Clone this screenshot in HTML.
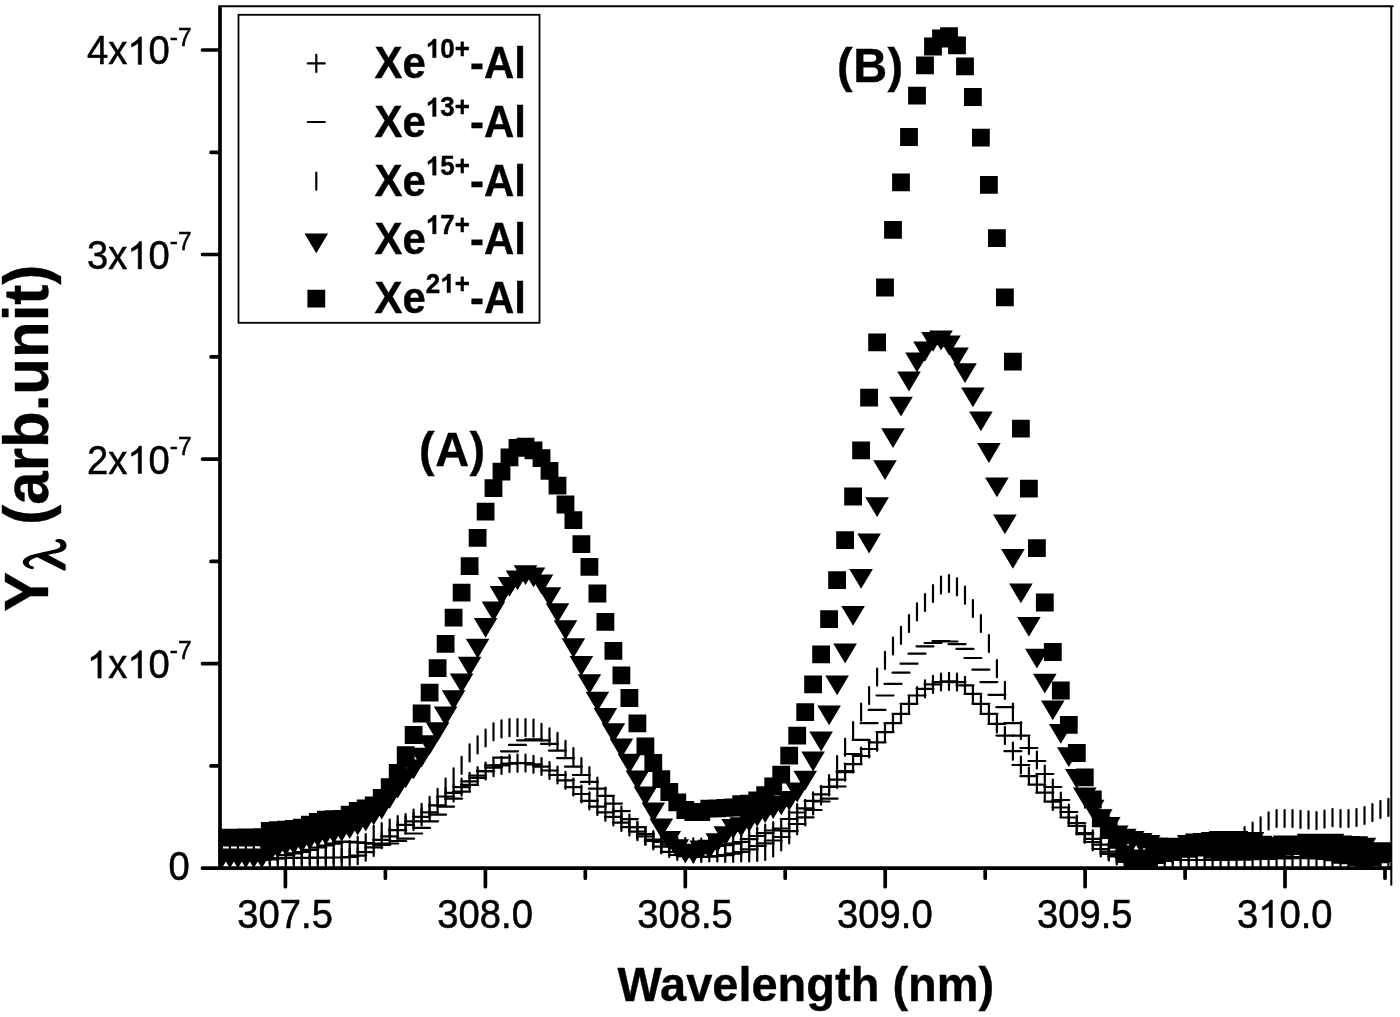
<!DOCTYPE html>
<html><head><meta charset="utf-8"><title>Chart</title><style>
html,body{margin:0;padding:0;background:#fff;}
body{width:1400px;height:1017px;overflow:hidden;font-family:"Liberation Sans",sans-serif;}
svg{display:block;will-change:transform;}
text{font-family:"Liberation Sans",sans-serif;fill:#000;stroke:#000;stroke-width:0.35px;}
.tk{font-size:38.2px;stroke-width:0.5px;}
.ts{font-size:24.5px;}
.lg{font-size:42px;font-weight:bold;}
.sp{font-size:26px;font-weight:bold;}
.an{font-size:47px;font-weight:bold;letter-spacing:0.5px;}
.xt{font-size:47px;font-weight:bold;}
.yt{font-size:60px;font-weight:bold;}
.lam{font-family:"Liberation Serif",serif;font-weight:bold;font-size:62px;}
</style></head><body><svg width="1400" height="1017" viewBox="0 0 1400 1017">
<rect width="1400" height="1017" fill="#fff"/>
<defs><clipPath id="c"><rect x="218.5" y="6.3" width="1173.3" height="863.4"/></clipPath></defs>
<g clip-path="url(#c)">
<path d="M213.4 858.5h17M221.9 850v17M221.4 858.4h17M229.9 849.9v17M229.4 858.4h17M237.9 849.9v17M237.3 858.3h17M245.8 849.8v17M245.3 858.3h17M253.8 849.8v17M253.3 858.2h17M261.8 849.7v17M261.3 858.1h17M269.8 849.6v17M269.3 858.1h17M277.8 849.6v17M277.3 858h17M285.8 849.5v17M285.3 857.9h17M293.8 849.4v17M293.3 857.9h17M301.8 849.4v17M301.3 857.8h17M309.8 849.3v17M309.3 857.7h17M317.8 849.2v17M317.2 857.6h17M325.8 849.1v17M325.2 857.5h17M333.7 849v17M333.2 857.5h17M341.7 849v17M341.2 857h17M349.7 848.5v17M349.2 855.7h17M357.7 847.2v17M357.2 852.2h17M365.7 843.7v17M365.2 847.4h17M373.7 838.9v17M373.2 839.8h17M381.7 831.3v17M381.2 836.4h17M389.7 827.9v17M389.2 830.2h17M397.7 821.7v17M397.1 824.9h17M405.6 816.4v17M405.1 821.4h17M413.6 812.9v17M413.1 816.9h17M421.6 808.4v17M421.1 812.3h17M429.6 803.8v17M429.1 805.4h17M437.6 796.9v17M437.1 796.5h17M445.6 788v17M445.1 792.9h17M453.6 784.4v17M453.1 787.1h17M461.6 778.6v17M461.1 781.4h17M469.6 772.9v17M469.1 775.7h17M477.6 767.2v17M477.1 771.1h17M485.6 762.6v17M485 767.7h17M493.5 759.2v17M493 765.4h17M501.5 756.9v17M501 763.6h17M509.5 755.1v17M509 763.2h17M517.5 754.7v17M517 763.1h17M525.5 754.6v17M525 764.3h17M533.5 755.8v17M533 766.6h17M541.5 758.1v17M541 770.5h17M549.5 762v17M549 775h17M557.5 766.5v17M557 780.3h17M565.5 771.8v17M564.9 787.1h17M573.4 778.6v17M572.9 794h17M581.4 785.5v17M580.9 800.9h17M589.4 792.4v17M588.9 806.6h17M597.4 798.1v17M596.9 812.3h17M605.4 803.8v17M604.9 816.9h17M613.4 808.4v17M612.9 822.6h17M621.4 814.1v17M620.9 827.1h17M629.4 818.6v17M628.9 831.7h17M637.4 823.2v17M636.9 836.3h17M645.4 827.8v17M644.8 839.7h17M653.3 831.2v17M652.8 842h17M661.3 833.5v17M660.8 844.3h17M669.3 835.8v17M668.8 846h17M677.3 837.5v17M676.8 846.5h17M685.3 838v17M684.8 846.9h17M693.3 838.4v17M692.8 847h17M701.3 838.5v17M700.8 846.7h17M709.3 838.2v17M708.8 846h17M717.3 837.5v17M716.8 845.1h17M725.2 836.6v17M724.7 843.7h17M733.2 835.2v17M732.7 842h17M741.2 833.5v17M740.7 839.2h17M749.2 830.7v17M748.7 836h17M757.2 827.5v17M756.7 833.2h17M765.2 824.7v17M764.7 830.5h17M773.2 822v17M772.7 828.5h17M781.2 820v17M780.7 819h17M789.2 810.5v17M788.7 812.5h17M797.2 804v17M796.7 808.3h17M805.2 799.8v17M804.6 800.9h17M813.1 792.4v17M812.6 794.3h17M821.1 785.8v17M820.6 786.9h17M829.1 778.4v17M828.6 779.6h17M837.1 771.1v17M836.6 772.2h17M845.1 763.7v17M844.6 764.1h17M853.1 755.6v17M852.6 756h17M861.1 747.5v17M860.6 749h17M869.1 740.5v17M868.6 742.3h17M877.1 733.8v17M876.5 732.2h17M885 723.7v17M884.5 723.2h17M893 714.7v17M892.5 713.9h17M901 705.4v17M900.5 703.8h17M909 695.3v17M908.5 695.5h17M917 687v17M916.5 688.8h17M925 680.3v17M924.5 684.4h17M933 675.9v17M932.5 682h17M941 673.5v17M940.5 681.4h17M949 672.9v17M948.5 682.1h17M957 673.6v17M956.5 685.4h17M965 676.9v17M964.4 693.8h17M972.9 685.3v17M972.4 703.8h17M980.9 695.3v17M980.4 713.9h17M988.9 705.4v17M988.4 723.9h17M996.9 715.4v17M996.4 735.6h17M1004.9 727.1v17M1004.4 751.2h17M1012.9 742.7v17M1012.4 765h17M1020.9 756.5v17M1020.4 776.2h17M1028.9 767.7v17M1028.4 784.6h17M1036.9 776.1v17M1036.3 792.7h17M1044.8 784.2v17M1044.3 801.6h17M1052.8 793.1v17M1052.3 807.5h17M1060.8 799v17M1060.3 817.5h17M1068.8 809v17M1068.3 825.9h17M1076.8 817.4v17M1076.3 834.2h17M1084.8 825.7v17M1084.3 838.9h17M1092.8 830.4v17M1092.3 844.7h17M1100.8 836.2v17M1100.3 851.6h17M1108.8 843.1v17M1108.3 856h17M1116.8 847.5v17M1116.2 858h17M1124.8 849.5v17M1124.2 859h17M1132.7 850.5v17M1132.2 859.7h17M1140.7 851.2v17M1140.2 860h17M1148.7 851.5v17M1148.2 860h17M1156.7 851.5v17M1156.2 860h17M1164.7 851.5v17M1164.2 860h17M1172.7 851.5v17M1172.2 860h17M1180.7 851.5v17M1180.2 860h17M1188.7 851.5v17M1188.2 860h17M1196.7 851.5v17M1196.2 860h17M1204.7 851.5v17M1204.1 859.9h17M1212.6 851.4v17M1212.1 859.8h17M1220.6 851.3v17M1220.1 859.7h17M1228.6 851.2v17M1228.1 859.5h17M1236.6 851v17M1236.1 859.3h17M1244.6 850.8v17M1244.1 859.2h17M1252.6 850.7v17M1252.1 859h17M1260.6 850.5v17M1260.1 858.8h17M1268.6 850.3v17M1268.1 858.5h17M1276.6 850v17M1276.1 858.3h17M1284.6 849.8v17M1284 858.1h17M1292.5 849.6v17M1292 858h17M1300.5 849.5v17M1300 858.1h17M1308.5 849.6v17M1308 858.4h17M1316.5 849.9v17M1316 858.8h17M1324.5 850.3v17M1324 859.3h17M1332.5 850.8v17M1332 859.7h17M1340.5 851.2v17M1340 860h17M1348.5 851.5v17M1348 860.2h17M1356.5 851.7v17M1356 860.4h17M1364.5 851.9v17M1363.9 860.6h17M1372.4 852.1v17M1371.9 860.8h17M1380.4 852.3v17M1379.9 860.9h17M1388.4 852.4v17" fill="none" stroke="#000" stroke-width="2.2" stroke-linecap="round"/>
<path d="M213.4 860h17M221.4 860h17M229.4 860h17M237.3 860h17M245.3 860h17M253.3 860h17M261.3 859.5h17M269.3 858.4h17M277.3 855.2h17M285.3 853.3h17M293.3 852h17M301.3 849.9h17M309.3 847.5h17M317.2 845.5h17M325.2 843.6h17M333.2 841.7h17M341.2 841.9h17M349.2 842.4h17M357.2 843h17M365.2 843.7h17M373.2 845h17M381.2 843.5h17M389.2 841h17M397.1 838.6h17M405.1 833.5h17M413.1 827.8h17M421.1 821.4h17M429.1 814.6h17M437.1 806.6h17M445.1 798.6h17M453.1 791.7h17M461.1 784.9h17M469.1 778h17M477.1 771.1h17M485 765.4h17M493 757.7h17M501 751.3h17M509 744.9h17M517 740.3h17M525 739.4h17M533 740.3h17M541 743.9h17M549 750.6h17M557 758.1h17M564.9 766.6h17M572.9 775h17M580.9 781.9h17M588.9 788.7h17M596.9 795.8h17M604.9 803.6h17M612.9 811.1h17M620.9 819.1h17M628.9 827.1h17M636.9 834h17M644.8 840.9h17M652.8 846.6h17M660.8 851.8h17M668.8 855h17M676.8 856.1h17M684.8 856.8h17M692.8 857h17M700.8 856.7h17M708.8 856h17M716.8 855.1h17M724.7 853.7h17M732.7 852h17M740.7 849.3h17M748.7 846h17M756.7 843.3h17M764.7 840.5h17M772.7 837h17M780.7 831.1h17M788.7 824h17M796.7 817.3h17M804.6 810h17M812.6 801.5h17M820.6 798.7h17M828.6 786.5h17M836.6 771h17M844.6 754h17M852.6 739.9h17M860.6 723.2h17M868.6 709.8h17M876.5 695.5h17M884.5 683.8h17M892.5 672.7h17M900.5 663.7h17M908.5 653.7h17M916.5 646.3h17M924.5 643h17M932.5 641h17M940.5 641.5h17M948.5 644.1h17M956.5 648.9h17M964.4 658h17M972.4 669.7h17M980.4 682.1h17M988.4 694.8h17M996.4 707.2h17M1004.4 723.2h17M1012.4 735.6h17M1020.4 748h17M1028.4 761h17M1036.3 774h17M1044.3 787h17M1052.3 800h17M1060.3 812h17M1068.3 823h17M1076.3 833h17M1084.3 842h17M1092.3 849h17M1100.3 853.8h17M1108.3 856.3h17M1116.2 858h17M1124.2 859h17M1132.2 859.5h17M1140.2 859.8h17M1148.2 860h17M1156.2 860h17M1164.2 860h17M1172.2 860h17M1180.2 860h17M1188.2 860h17M1196.2 860h17M1204.1 859.8h17M1212.1 859.6h17M1220.1 859.3h17M1228.1 858.9h17M1236.1 858.6h17M1244.1 858.3h17M1252.1 858h17M1260.1 857.8h17M1268.1 857.5h17M1276.1 857.2h17M1284 857.1h17M1292 857h17M1300 857.1h17M1308 857.4h17M1316 857.8h17M1324 858.3h17M1332 858.7h17M1340 859h17M1348 859.2h17M1356 859.4h17M1363.9 859.6h17M1371.9 859.8h17M1379.9 859.9h17" fill="none" stroke="#000" stroke-width="2.2" stroke-linecap="round"/>
<path d="M221.9 846.5v17M229.9 846.6v17M237.9 846.7v17M245.8 846.8v17M253.8 846.9v17M261.8 847v17M269.8 847.1v17M277.8 847.2v17M285.8 847.4v17M293.8 847.5v17M301.8 847.5v17M309.8 847.4v17M317.8 847.2v17M325.8 846.9v17M333.7 846.5v17M341.7 845.1v17M349.7 841v17M357.7 836.8v17M365.7 834.1v17M373.7 825.8v17M381.7 823.1v17M389.7 819.6v17M397.7 816.2v17M405.6 814.1v17M413.6 809.5v17M421.6 803.8v17M429.6 796.9v17M437.6 788.9v17M445.6 778.6v17M453.6 768.4v17M461.6 756.9v17M469.6 744.4v17M477.6 736.4v17M485.6 729.5v17M493.5 723.3v17M501.5 720.4v17M509.5 719.2v17M517.5 719.2v17M525.5 719.2v17M533.5 719.7v17M541.5 723.8v17M549.5 728.4v17M557.5 732.9v17M565.5 740.9v17M573.4 748.2v17M581.4 758.1v17M589.4 767.2v17M597.4 777.5v17M605.4 787.5v17M613.4 797.5v17M621.4 806.5v17M629.4 814.5v17M637.4 821.5v17M645.4 827.5v17M653.3 832.5v17M661.3 836.5v17M669.3 840v17M677.3 843v17M685.3 844v17M693.3 844.7v17M701.3 845v17M709.3 844.5v17M717.3 844.5v17M725.2 845v17M733.2 845v17M741.2 844.5v17M749.2 844.5v17M757.2 844v17M765.2 843v17M773.2 839.5v17M781.2 833.5v17M789.2 826.5v17M797.2 817.5v17M805.2 808.5v17M813.1 797.5v17M821.1 787.6v17M829.1 775v17M837.1 756.2v17M845.1 738.8v17M853.1 722.1v17M861.1 703.7v17M869.1 687v17M877.1 668.6v17M885 651.9v17M893 637.5v17M901 626.8v17M909 615.1v17M917 603.4v17M925 594v17M933 585v17M941 576.6v17M949 575v17M957 578.3v17M965 586.7v17M972.9 600v17M980.9 615.1v17M988.9 635.1v17M996.9 660.2v17M1004.9 681.9v17M1012.9 703.7v17M1020.9 722.1v17M1028.9 737.1v17M1036.9 751.5v17M1044.8 765.5v17M1052.8 779.5v17M1060.8 792.5v17M1068.8 804.5v17M1076.8 815.5v17M1084.8 825.5v17M1092.8 833.5v17M1100.8 839.5v17M1108.8 843.5v17M1116.8 845.6v17M1124.8 846.9v17M1132.7 847.5v17M1140.7 847.4v17M1148.7 847.1v17M1156.7 846.7v17M1164.7 846.3v17M1172.7 845.8v17M1180.7 845.2v17M1188.7 844.6v17M1196.7 843.8v17M1204.7 843v17M1212.6 842v17M1220.6 840.5v17M1228.6 838.2v17M1236.6 833.5v17M1244.6 827.1v17M1252.6 822.5v17M1260.6 817.4v17M1268.6 812.4v17M1276.6 810v17M1284.6 810v17M1292.5 810v17M1300.5 810.9v17M1308.5 811.4v17M1316.5 812.1v17M1324.5 810.6v17M1332.5 809.2v17M1340.5 810v17M1348.5 810v17M1356.5 809v17M1364.5 807v17M1372.4 804.1v17M1380.4 801v17M1388.4 798.9v17" fill="none" stroke="#000" stroke-width="2.2" stroke-linecap="round"/>
<path d="M210.1 848.4h23.6l-11.8 19.8zM218.1 848.4h23.6l-11.8 19.8zM226.1 848.4h23.6l-11.8 19.8zM234 848.4h23.6l-11.8 19.8zM242 848.4h23.6l-11.8 19.8zM250 848.4h23.6l-11.8 19.8zM258 843.4h23.6l-11.8 19.8zM266 838.6h23.6l-11.8 19.8zM274 836.3h23.6l-11.8 19.8zM282 834.7h23.6l-11.8 19.8zM290 832.9h23.6l-11.8 19.8zM298 830.1h23.6l-11.8 19.8zM306 827.4h23.6l-11.8 19.8zM313.9 825.5h23.6l-11.8 19.8zM321.9 823.9h23.6l-11.8 19.8zM329.9 821.9h23.6l-11.8 19.8zM337.9 819.2h23.6l-11.8 19.8zM345.9 815.8h23.6l-11.8 19.8zM353.9 811.6h23.6l-11.8 19.8zM361.9 805.4h23.6l-11.8 19.8zM369.9 799.8h23.6l-11.8 19.8zM377.9 789h23.6l-11.8 19.8zM385.9 778.7h23.6l-11.8 19.8zM393.8 768.4h23.6l-11.8 19.8zM401.8 759.4h23.6l-11.8 19.8zM409.8 747.7h23.6l-11.8 19.8zM417.8 735.3h23.6l-11.8 19.8zM425.8 722.2h23.6l-11.8 19.8zM433.8 706.4h23.6l-11.8 19.8zM441.8 690.3h23.6l-11.8 19.8zM449.8 673.4h23.6l-11.8 19.8zM457.8 656.8h23.6l-11.8 19.8zM465.8 638.7h23.6l-11.8 19.8zM473.8 617.9h23.6l-11.8 19.8zM481.7 601.4h23.6l-11.8 19.8zM489.7 586.1h23.6l-11.8 19.8zM497.7 577h23.6l-11.8 19.8zM505.7 570.4h23.6l-11.8 19.8zM513.7 565.2h23.6l-11.8 19.8zM521.7 567.5h23.6l-11.8 19.8zM529.7 574.6h23.6l-11.8 19.8zM537.7 587.2h23.6l-11.8 19.8zM545.7 603.3h23.6l-11.8 19.8zM553.7 620.3h23.6l-11.8 19.8zM561.6 638.3h23.6l-11.8 19.8zM569.6 656.1h23.6l-11.8 19.8zM577.6 674.2h23.6l-11.8 19.8zM585.6 691.8h23.6l-11.8 19.8zM593.6 707.9h23.6l-11.8 19.8zM601.6 723.2h23.6l-11.8 19.8zM609.6 738.5h23.6l-11.8 19.8zM617.6 753.8h23.6l-11.8 19.8zM625.6 770.4h23.6l-11.8 19.8zM633.6 786.4h23.6l-11.8 19.8zM641.5 802.4h23.6l-11.8 19.8zM649.5 818.4h23.6l-11.8 19.8zM657.5 830.9h23.6l-11.8 19.8zM665.5 839.2h23.6l-11.8 19.8zM673.5 843.7h23.6l-11.8 19.8zM681.5 844.3h23.6l-11.8 19.8zM689.5 840.5h23.6l-11.8 19.8zM697.5 839.8h23.6l-11.8 19.8zM705.5 833.3h23.6l-11.8 19.8zM713.5 826.2h23.6l-11.8 19.8zM721.4 819.1h23.6l-11.8 19.8zM729.4 817.2h23.6l-11.8 19.8zM737.4 812.2h23.6l-11.8 19.8zM745.4 807h23.6l-11.8 19.8zM753.4 803.2h23.6l-11.8 19.8zM761.4 799.3h23.6l-11.8 19.8zM769.4 795.5h23.6l-11.8 19.8zM777.4 791h23.6l-11.8 19.8zM785.4 782.6h23.6l-11.8 19.8zM793.4 770.7h23.6l-11.8 19.8zM801.3 751.6h23.6l-11.8 19.8zM809.3 731.6h23.6l-11.8 19.8zM817.3 705.5h23.6l-11.8 19.8zM825.3 675.4h23.6l-11.8 19.8zM833.3 643.6h23.6l-11.8 19.8zM841.3 605.9h23.6l-11.8 19.8zM849.3 568.9h23.6l-11.8 19.8zM857.3 533.6h23.6l-11.8 19.8zM865.3 497.2h23.6l-11.8 19.8zM873.2 460.3h23.6l-11.8 19.8zM881.2 428.3h23.6l-11.8 19.8zM889.2 396.7h23.6l-11.8 19.8zM897.2 371.6h23.6l-11.8 19.8zM905.2 352.6h23.6l-11.8 19.8zM913.2 341.6h23.6l-11.8 19.8zM921.2 332h23.6l-11.8 19.8zM929.2 330.6h23.6l-11.8 19.8zM937.2 335.4h23.6l-11.8 19.8zM945.2 347.5h23.6l-11.8 19.8zM953.2 363.3h23.6l-11.8 19.8zM961.1 387.4h23.6l-11.8 19.8zM969.1 411.5h23.6l-11.8 19.8zM977.1 443.1h23.6l-11.8 19.8zM985.1 477.5h23.6l-11.8 19.8zM993.1 514.4h23.6l-11.8 19.8zM1001.1 549h23.6l-11.8 19.8zM1009.1 583.5h23.6l-11.8 19.8zM1017.1 616.9h23.6l-11.8 19.8zM1025.1 648.7h23.6l-11.8 19.8zM1033 673.7h23.6l-11.8 19.8zM1041 700.5h23.6l-11.8 19.8zM1049 723.9h23.6l-11.8 19.8zM1057 747.3h23.6l-11.8 19.8zM1065 769h23.6l-11.8 19.8zM1073 787.4h23.6l-11.8 19.8zM1081 799.7h23.6l-11.8 19.8zM1089 809.3h23.6l-11.8 19.8zM1097 816.9h23.6l-11.8 19.8zM1105 825.4h23.6l-11.8 19.8zM1113 828.7h23.6l-11.8 19.8zM1120.9 831.1h23.6l-11.8 19.8zM1128.9 833.1h23.6l-11.8 19.8zM1136.9 835.1h23.6l-11.8 19.8zM1144.9 837.4h23.6l-11.8 19.8zM1152.9 837.7h23.6l-11.8 19.8zM1160.9 837.7h23.6l-11.8 19.8zM1168.9 837.7h23.6l-11.8 19.8zM1176.9 834.9h23.6l-11.8 19.8zM1184.9 833.5h23.6l-11.8 19.8zM1192.9 832.9h23.6l-11.8 19.8zM1200.8 831.9h23.6l-11.8 19.8zM1208.8 831.1h23.6l-11.8 19.8zM1216.8 830.9h23.6l-11.8 19.8zM1224.8 830.9h23.6l-11.8 19.8zM1232.8 832h23.6l-11.8 19.8zM1240.8 832h23.6l-11.8 19.8zM1248.8 835.8h23.6l-11.8 19.8zM1256.8 838.1h23.6l-11.8 19.8zM1264.8 837.1h23.6l-11.8 19.8zM1272.8 835.4h23.6l-11.8 19.8zM1280.7 835.4h23.6l-11.8 19.8zM1288.7 835.4h23.6l-11.8 19.8zM1296.7 833.7h23.6l-11.8 19.8zM1304.7 833.7h23.6l-11.8 19.8zM1312.7 833.7h23.6l-11.8 19.8zM1320.7 833.7h23.6l-11.8 19.8zM1328.7 835.4h23.6l-11.8 19.8zM1336.7 836h23.6l-11.8 19.8zM1344.7 836.3h23.6l-11.8 19.8zM1352.7 837.8h23.6l-11.8 19.8zM1360.6 842.3h23.6l-11.8 19.8zM1368.6 842.3h23.6l-11.8 19.8zM1376.6 842.3h23.6l-11.8 19.8z" fill="#000"/>
<path d="M213 828.7h17.8v17.8h-17.8zM221 828.7h17.8v17.8h-17.8zM229 828.7h17.8v17.8h-17.8zM236.9 828.6h17.8v17.8h-17.8zM244.9 828.5h17.8v17.8h-17.8zM252.9 828.3h17.8v17.8h-17.8zM260.9 822.1h17.8v17.8h-17.8zM268.9 821.2h17.8v17.8h-17.8zM276.9 820.7h17.8v17.8h-17.8zM284.9 820.1h17.8v17.8h-17.8zM292.9 818.7h17.8v17.8h-17.8zM300.9 815.8h17.8v17.8h-17.8zM308.9 813.1h17.8v17.8h-17.8zM316.9 810.7h17.8v17.8h-17.8zM324.8 810.3h17.8v17.8h-17.8zM332.8 809.9h17.8v17.8h-17.8zM340.8 805.8h17.8v17.8h-17.8zM348.8 802h17.8v17.8h-17.8zM356.8 799.4h17.8v17.8h-17.8zM364.8 796.6h17.8v17.8h-17.8zM372.8 789.1h17.8v17.8h-17.8zM380.8 778.3h17.8v17.8h-17.8zM388.8 764.1h17.8v17.8h-17.8zM396.8 746.2h17.8v17.8h-17.8zM404.7 726.1h17.8v17.8h-17.8zM412.7 704.6h17.8v17.8h-17.8zM420.7 683.7h17.8v17.8h-17.8zM428.7 659.2h17.8v17.8h-17.8zM436.7 635h17.8v17.8h-17.8zM444.7 608.8h17.8v17.8h-17.8zM452.7 583.7h17.8v17.8h-17.8zM460.7 557.2h17.8v17.8h-17.8zM468.7 528.9h17.8v17.8h-17.8zM476.7 502.8h17.8v17.8h-17.8zM484.6 479.2h17.8v17.8h-17.8zM492.6 462.8h17.8v17.8h-17.8zM500.6 448.4h17.8v17.8h-17.8zM508.6 438.9h17.8v17.8h-17.8zM516.6 437.7h17.8v17.8h-17.8zM524.6 441.4h17.8v17.8h-17.8zM532.6 449.3h17.8v17.8h-17.8zM540.6 461.9h17.8v17.8h-17.8zM548.6 476.7h17.8v17.8h-17.8zM556.6 495.6h17.8v17.8h-17.8zM564.5 511.3h17.8v17.8h-17.8zM572.5 535.2h17.8v17.8h-17.8zM580.5 557.9h17.8v17.8h-17.8zM588.5 584.6h17.8v17.8h-17.8zM596.5 612.9h17.8v17.8h-17.8zM604.5 641.9h17.8v17.8h-17.8zM612.5 666.4h17.8v17.8h-17.8zM620.5 689.1h17.8v17.8h-17.8zM628.5 714.5h17.8v17.8h-17.8zM636.5 737.4h17.8v17.8h-17.8zM644.4 754.1h17.8v17.8h-17.8zM652.4 770.3h17.8v17.8h-17.8zM660.4 783.1h17.8v17.8h-17.8zM668.4 793.4h17.8v17.8h-17.8zM676.4 801.1h17.8v17.8h-17.8zM684.4 803.1h17.8v17.8h-17.8zM692.4 803.1h17.8v17.8h-17.8zM700.4 799.8h17.8v17.8h-17.8zM708.4 799.4h17.8v17.8h-17.8zM716.4 799h17.8v17.8h-17.8zM724.3 798.6h17.8v17.8h-17.8zM732.3 795.3h17.8v17.8h-17.8zM740.3 794.7h17.8v17.8h-17.8zM748.3 791.5h17.8v17.8h-17.8zM756.3 786.3h17.8v17.8h-17.8zM764.3 777.4h17.8v17.8h-17.8zM772.3 765.8h17.8v17.8h-17.8zM780.3 746.7h17.8v17.8h-17.8zM788.3 726.7h17.8v17.8h-17.8zM796.3 703.3h17.8v17.8h-17.8zM804.2 675.5h17.8v17.8h-17.8zM812.2 645.4h17.8v17.8h-17.8zM820.2 610.3h17.8v17.8h-17.8zM828.2 571.2h17.8v17.8h-17.8zM836.2 531.3h17.8v17.8h-17.8zM844.2 487.6h17.8v17.8h-17.8zM852.2 441.5h17.8v17.8h-17.8zM860.2 388.8h17.8v17.8h-17.8zM868.2 333.4h17.8v17.8h-17.8zM876.1 278.6h17.8v17.8h-17.8zM884.1 221h17.8v17.8h-17.8zM892.1 173.5h17.8v17.8h-17.8zM900.1 128.1h17.8v17.8h-17.8zM908.1 86.8h17.8v17.8h-17.8zM916.1 56.5h17.8v17.8h-17.8zM924.1 37.6h17.8v17.8h-17.8zM932.1 29.6h17.8v17.8h-17.8zM940.1 27.2h17.8v17.8h-17.8zM948.1 36.5h17.8v17.8h-17.8zM956.1 57.5h17.8v17.8h-17.8zM964 88.1h17.8v17.8h-17.8zM972 128.7h17.8v17.8h-17.8zM980 175.9h17.8v17.8h-17.8zM988 229.2h17.8v17.8h-17.8zM996 288.4h17.8v17.8h-17.8zM1004 352.7h17.8v17.8h-17.8zM1012 419.8h17.8v17.8h-17.8zM1020 479.7h17.8v17.8h-17.8zM1028 539.2h17.8v17.8h-17.8zM1035.9 593.6h17.8v17.8h-17.8zM1043.9 643.1h17.8v17.8h-17.8zM1051.9 681.6h17.8v17.8h-17.8zM1059.9 716h17.8v17.8h-17.8zM1067.9 744.1h17.8v17.8h-17.8zM1075.9 768.5h17.8v17.8h-17.8zM1083.9 790.6h17.8v17.8h-17.8zM1091.9 809.4h17.8v17.8h-17.8zM1099.9 821.2h17.8v17.8h-17.8zM1107.9 831h17.8v17.8h-17.8zM1115.8 845.3h17.8v17.8h-17.8zM1123.8 849.6h17.8v17.8h-17.8zM1131.8 850.1h17.8v17.8h-17.8zM1139.8 849.6h17.8v17.8h-17.8zM1147.8 846.3h17.8v17.8h-17.8zM1155.8 844.1h17.8v17.8h-17.8zM1163.8 842.8h17.8v17.8h-17.8zM1171.8 839.9h17.8v17.8h-17.8zM1179.8 839.9h17.8v17.8h-17.8zM1187.8 838.8h17.8v17.8h-17.8zM1195.8 838.8h17.8v17.8h-17.8zM1203.7 840.8h17.8v17.8h-17.8zM1211.7 841.4h17.8v17.8h-17.8zM1219.7 841.6h17.8v17.8h-17.8zM1227.7 842.1h17.8v17.8h-17.8zM1235.7 842.7h17.8v17.8h-17.8zM1243.7 842.1h17.8v17.8h-17.8zM1251.7 840.4h17.8v17.8h-17.8zM1259.7 840.4h17.8v17.8h-17.8zM1267.7 839.1h17.8v17.8h-17.8zM1275.7 838h17.8v17.8h-17.8zM1283.6 837.1h17.8v17.8h-17.8zM1291.6 837.2h17.8v17.8h-17.8zM1299.6 838.9h17.8v17.8h-17.8zM1307.6 840.3h17.8v17.8h-17.8zM1315.6 840.3h17.8v17.8h-17.8zM1323.6 843.5h17.8v17.8h-17.8zM1331.6 845.9h17.8v17.8h-17.8zM1339.6 846.5h17.8v17.8h-17.8zM1347.6 848.1h17.8v17.8h-17.8zM1355.5 849.1h17.8v17.8h-17.8zM1363.5 848.5h17.8v17.8h-17.8zM1371.5 845.4h17.8v17.8h-17.8zM1379.5 844.1h17.8v17.8h-17.8z" fill="#000"/>
</g>
<path d="M220 7.8V868.2M202.5 868.2H1390.3M211 765.9H220M202.5 663.7H220M211 561.4H220M202.5 459.1H220M211 356.8H220M202.5 254.5H220M211 152.3H220M202.5 50H220M285.4 868.2V886.7M385.4 868.2V878.2M485.4 868.2V886.7M585.3 868.2V878.2M685.3 868.2V886.7M785.2 868.2V878.2M885.2 868.2V886.7M985.2 868.2V878.2M1085.1 868.2V886.7M1185.1 868.2V878.2M1285 868.2V886.7M1385 868.2V878.2" fill="none" stroke="#000" stroke-width="3.7" stroke-linecap="round"/>
<path d="M219 6.3H1392.8M1391.3 6.3V884.7" fill="none" stroke="#000" stroke-width="2" stroke-linecap="round"/>
<rect x="238.5" y="14.8" width="301" height="308" fill="#fff" stroke="#000" stroke-width="1.8"/>
<path d="M307.8 63.4h17M316.3 54.9v17M307.8 122h17M316.3 172.7v17" fill="none" stroke="#000" stroke-width="2.2" stroke-linecap="round"/>
<path d="M304.5 233.5h23.6l-11.8 19.8zM307.4 289.7h17.8v17.8h-17.8z" fill="#000"/>
<text class="lg" transform="translate(374.5 78) scale(1 1.0405)">Xe<tspan class="sp" dy="-19.51"><tspan visibility="hidden">1</tspan>0+</tspan><tspan dy="19.51">-Al</tspan></text>
<text class="lg" transform="translate(374.5 136.75) scale(1 1.0405)">Xe<tspan class="sp" dy="-19.51"><tspan visibility="hidden">1</tspan>3+</tspan><tspan dy="19.51">-Al</tspan></text>
<text class="lg" transform="translate(374.5 195.5) scale(1 1.0405)">Xe<tspan class="sp" dy="-19.51"><tspan visibility="hidden">1</tspan>5+</tspan><tspan dy="19.51">-Al</tspan></text>
<text class="lg" transform="translate(374.5 254.25) scale(1 1.0405)">Xe<tspan class="sp" dy="-19.51"><tspan visibility="hidden">1</tspan>7+</tspan><tspan dy="19.51">-Al</tspan></text>
<text class="lg" transform="translate(374.5 313) scale(1 1.0405)">Xe<tspan class="sp" dy="-19.51">2<tspan visibility="hidden">1</tspan>+</tspan><tspan dy="19.51">-Al</tspan></text>
<text class="tk" text-anchor="middle" transform="translate(285.1 927.5) scale(1 1.0405)">307.5</text>
<text class="tk" text-anchor="middle" transform="translate(485.1 927.5) scale(1 1.0405)">308.0</text>
<text class="tk" text-anchor="middle" transform="translate(685 927.5) scale(1 1.0405)">308.5</text>
<text class="tk" text-anchor="middle" transform="translate(884.9 927.5) scale(1 1.0405)">309.0</text>
<text class="tk" text-anchor="middle" transform="translate(1084.8 927.5) scale(1 1.0405)">309.5</text>
<text class="tk" text-anchor="middle" transform="translate(1284.8 927.5) scale(1 1.0405)">3<tspan visibility="hidden">1</tspan>0.0</text>
<text class="tk" transform="translate(87 678.1) scale(1 1.0405)"><tspan visibility="hidden">1</tspan>x<tspan visibility="hidden">1</tspan>0<tspan class="ts" dy="-18.16">-7</tspan></text>
<text class="tk" transform="translate(87 473.5) scale(1 1.0405)">2x<tspan visibility="hidden">1</tspan>0<tspan class="ts" dy="-18.16">-7</tspan></text>
<text class="tk" transform="translate(87 268.9) scale(1 1.0405)">3x<tspan visibility="hidden">1</tspan>0<tspan class="ts" dy="-18.16">-7</tspan></text>
<text class="tk" transform="translate(87 64.4) scale(1 1.0405)">4x<tspan visibility="hidden">1</tspan>0<tspan class="ts" dy="-18.16">-7</tspan></text>
<text class="tk" transform="translate(168.6 880.1) scale(1 1.0405)">0</text>
<path transform="translate(425.9 57.7) scale(0.01270 -0.01270)" d="M806 0L525 0L525 1059Q371 915 162 846L162 1101Q272 1137 401 1237.5Q530 1338 578 1472L806 1472Z" fill="#000" stroke="#000" stroke-width="27.6" stroke-linejoin="round"/>
<path transform="translate(425.9 116.5) scale(0.01270 -0.01270)" d="M806 0L525 0L525 1059Q371 915 162 846L162 1101Q272 1137 401 1237.5Q530 1338 578 1472L806 1472Z" fill="#000" stroke="#000" stroke-width="27.6" stroke-linejoin="round"/>
<path transform="translate(425.9 175.2) scale(0.01270 -0.01270)" d="M806 0L525 0L525 1059Q371 915 162 846L162 1101Q272 1137 401 1237.5Q530 1338 578 1472L806 1472Z" fill="#000" stroke="#000" stroke-width="27.6" stroke-linejoin="round"/>
<path transform="translate(425.9 233.9) scale(0.01270 -0.01270)" d="M806 0L525 0L525 1059Q371 915 162 846L162 1101Q272 1137 401 1237.5Q530 1338 578 1472L806 1472Z" fill="#000" stroke="#000" stroke-width="27.6" stroke-linejoin="round"/>
<path transform="translate(440.3 292.7) scale(0.01270 -0.01270)" d="M806 0L525 0L525 1059Q371 915 162 846L162 1101Q272 1137 401 1237.5Q530 1338 578 1472L806 1472Z" fill="#000" stroke="#000" stroke-width="27.6" stroke-linejoin="round"/>
<path transform="translate(1258.2 927.5) scale(0.01865 -0.01865)" d="M763 0L583 0L583 1147Q518 1085 412.5 1023Q307 961 223 930L223 1104Q374 1175 487 1276Q600 1377 647 1472L763 1472Z" fill="#000" stroke="#000" stroke-width="26.8" stroke-linejoin="round"/>
<path transform="translate(127.3 678.1) scale(0.01865 -0.01865)" d="M763 0L583 0L583 1147Q518 1085 412.5 1023Q307 961 223 930L223 1104Q374 1175 487 1276Q600 1377 647 1472L763 1472Z" fill="#000" stroke="#000" stroke-width="26.8" stroke-linejoin="round"/>
<path transform="translate(87 678.1) scale(0.01865 -0.01865)" d="M763 0L583 0L583 1147Q518 1085 412.5 1023Q307 961 223 930L223 1104Q374 1175 487 1276Q600 1377 647 1472L763 1472Z" fill="#000" stroke="#000" stroke-width="26.8" stroke-linejoin="round"/>
<path transform="translate(127.3 473.5) scale(0.01865 -0.01865)" d="M763 0L583 0L583 1147Q518 1085 412.5 1023Q307 961 223 930L223 1104Q374 1175 487 1276Q600 1377 647 1472L763 1472Z" fill="#000" stroke="#000" stroke-width="26.8" stroke-linejoin="round"/>
<path transform="translate(127.3 268.9) scale(0.01865 -0.01865)" d="M763 0L583 0L583 1147Q518 1085 412.5 1023Q307 961 223 930L223 1104Q374 1175 487 1276Q600 1377 647 1472L763 1472Z" fill="#000" stroke="#000" stroke-width="26.8" stroke-linejoin="round"/>
<path transform="translate(127.3 64.4) scale(0.01865 -0.01865)" d="M763 0L583 0L583 1147Q518 1085 412.5 1023Q307 961 223 930L223 1104Q374 1175 487 1276Q600 1377 647 1472L763 1472Z" fill="#000" stroke="#000" stroke-width="26.8" stroke-linejoin="round"/>
<text class="an" transform="translate(419 466) scale(1 1.0405)">(A)</text>
<text class="an" transform="translate(837 81.9) scale(1 1.0405)">(B)</text>
<text class="xt" transform="translate(617.4 1000.6) scale(1 1.0405)">Wavelength (nm)</text>
<text class="yt" transform="translate(48.1 611.8) rotate(-90) scale(1 1.0405)">Y<tspan class="lam" dy="17" visibility="hidden">&#955;</tspan><tspan dy="-17"> (arb.unit)</tspan></text>
<path d="M55.75 539.75C58.00 538.50 62.00 538.75 64.50 541.00C67.00 543.50 67.25 547.00 65.00 549.50C63.00 551.50 60.00 552.25 57.00 552.90L48.00 554.85L65.50 564.25L65.75 570.00L64.25 570.75L37.25 557.25C33.50 558.25 30.00 559.75 29.00 562.00C28.25 564.50 30.50 565.75 33.50 566.75C34.50 567.25 34.00 568.75 32.75 569.10C29.00 568.75 24.50 567.00 23.10 563.50C22.00 560.00 25.00 557.75 30.00 555.60C35.00 553.75 50.00 551.00 55.00 549.60C58.50 548.60 60.75 547.00 60.40 545.00C60.00 542.75 58.00 542.25 56.50 542.00C55.25 541.75 55.00 540.25 55.75 539.75Z" fill="#000"/>
</svg></body></html>
